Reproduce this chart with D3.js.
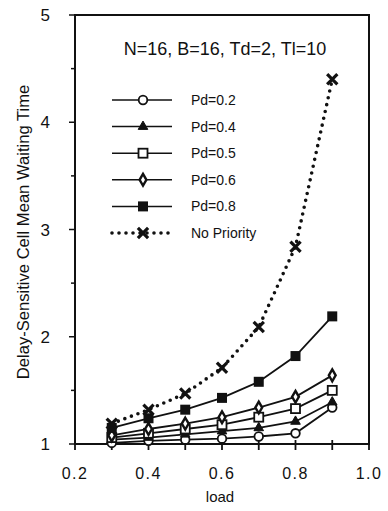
<!DOCTYPE html>
<html>
<head>
<meta charset="utf-8">
<script src="https://cdn.jsdelivr.net/npm/d3@7"></script>
<style>
  html, body { margin: 0; padding: 0; background: #fff; }
  svg text { font-family: "Liberation Sans", Arial, sans-serif; fill: #111; }
</style>
</head>
<body>
<svg id="chart" width="388" height="511" viewBox="0 0 388 511"></svg>
<script>
// load values on the x axis
var loads = [0.3, 0.4, 0.5, 0.6, 0.7, 0.8, 0.9];

// mean waiting time of delay-sensitive cells
var pd02 = [1.01, 1.03, 1.04, 1.05, 1.07, 1.10, 1.34];
var pd04 = [1.04, 1.06, 1.09, 1.12, 1.15, 1.21, 1.39];
var pd05 = [1.06, 1.10, 1.14, 1.18, 1.25, 1.33, 1.50];
var pd06 = [1.08, 1.14, 1.19, 1.25, 1.34, 1.44, 1.64];
var pd08 = [1.15, 1.24, 1.32, 1.43, 1.58, 1.82, 2.19];
var noPriority = [1.19, 1.32, 1.47, 1.71, 2.09, 2.84, 4.40];

var seriesNames = ["Pd=0.2", "Pd=0.4", "Pd=0.5", "Pd=0.6", "Pd=0.8", "No Priority"];
var xTickLabels = ["0.2", "0.4", "0.6", "0.8", "1.0"];
var yTickLabels = ["1", "2", "3", "4", "5"];

(function () {
  var svg = d3.select("#chart");
  var L = 75, R = 369, T = 15, B = 444;

  var x = d3.scaleLinear().domain([0.2, 1.0]).range([L, R]);
  var y = d3.scaleLinear().domain([1, 5]).range([B, T]);

  var series = [
    { name: seriesNames[0], values: pd02, sym: "circle" },
    { name: seriesNames[1], values: pd04, sym: "triangle" },
    { name: seriesNames[2], values: pd05, sym: "square" },
    { name: seriesNames[3], values: pd06, sym: "diamond" },
    { name: seriesNames[4], values: pd08, sym: "fsquare" },
    { name: seriesNames[5], values: noPriority, sym: "cross", dotted: true }
  ];

  // frame
  svg.append("rect").attr("x", L).attr("y", T).attr("width", R - L).attr("height", B - T)
    .attr("fill", "none").attr("stroke", "#111").attr("stroke-width", 2);

  // x ticks every 0.1, labels every 0.2
  var gx = svg.append("g");
  d3.range(0.2, 1.0001, 0.1).forEach(function (v) {
    gx.append("line").attr("x1", x(v)).attr("x2", x(v)).attr("y1", B - 4).attr("y2", B + 6)
      .attr("stroke", "#111").attr("stroke-width", 1.8);
  });
  xTickLabels.forEach(function (s) {
    gx.append("text").attr("x", x(+s)).attr("y", 479).attr("text-anchor", "middle")
      .attr("font-size", 16).attr("letter-spacing", 1.5).text(s);
  });
  svg.append("text").attr("x", 220).attr("y", 502).attr("text-anchor", "middle")
    .attr("font-size", 15).text("load");

  // y ticks every 0.5, labels on integers
  var gy = svg.append("g");
  d3.range(1, 5.0001, 0.5).forEach(function (v) {
    gy.append("line").attr("x1", L - (v % 1 ? 4 : 6)).attr("x2", L).attr("y1", y(v)).attr("y2", y(v))
      .attr("stroke", "#111").attr("stroke-width", 1.5);
  });
  yTickLabels.forEach(function (s) {
    gy.append("text").attr("x", 50).attr("y", y(+s) + 6).attr("text-anchor", "end")
      .attr("font-size", 17).text(s);
  });
  svg.append("text").attr("transform", "translate(29,232) rotate(-90)")
    .attr("text-anchor", "middle").attr("font-size", 16.6)
    .text("Delay-Sensitive Cell Mean Waiting Time");

  svg.append("text").attr("x", 225).attr("y", 55).attr("text-anchor", "middle")
    .attr("font-size", 18).text("N=16, B=16, Td=2, Tl=10");

  function marker(g, sym, cx, cy) {
    var st = "#111";
    if (sym === "circle") {
      g.append("circle").attr("cx", cx).attr("cy", cy).attr("r", 4.3)
        .attr("fill", "#fff").attr("stroke", st).attr("stroke-width", 1.8);
    } else if (sym === "triangle") {
      g.append("path").attr("d", d3.symbol(d3.symbolTriangle, 40)())
        .attr("transform", "translate(" + cx + "," + cy + ")")
        .attr("fill", "#111").attr("stroke", st).attr("stroke-width", 1);
    } else if (sym === "square") {
      g.append("rect").attr("x", cx - 4.5).attr("y", cy - 4.5).attr("width", 9).attr("height", 9)
        .attr("fill", "#fff").attr("stroke", st).attr("stroke-width", 1.8);
    } else if (sym === "diamond") {
      g.append("path").attr("d", d3.symbol(d3.symbolDiamond, 40)())
        .attr("transform", "translate(" + cx + "," + cy + ")")
        .attr("fill", "#fff").attr("stroke", st).attr("stroke-width", 2.4);
    } else if (sym === "fsquare") {
      g.append("rect").attr("x", cx - 5).attr("y", cy - 5).attr("width", 10).attr("height", 10)
        .attr("fill", "#111");
    } else if (sym === "cross") {
      g.append("path").attr("d", d3.symbol(d3.symbolX, 70)())
        .attr("transform", "translate(" + cx + "," + cy + ")")
        .attr("fill", "none").attr("stroke", st).attr("stroke-width", 3.2);
    }
  }

  var line = d3.line().x(function (d, i) { return x(loads[i]); }).y(function (d) { return y(d); });
  var gData = svg.append("g");
  series.forEach(function (s) {
    var p = gData.append("path").datum(s.values).attr("d", line).attr("fill", "none")
      .attr("stroke", "#111");
    if (s.dotted) p.attr("stroke-width", 3.6).attr("stroke-linecap", "round").attr("stroke-dasharray", "0,7");
    else p.attr("stroke-width", 1.8);
  });
  series.forEach(function (s) {
    s.values.forEach(function (v, i) { marker(gData, s.sym, x(loads[i]), y(v)); });
  });

  // legend
  var gLeg = svg.append("g");
  series.forEach(function (s, i) {
    var ly = 100 + i * 26.6;
    var ln = gLeg.append("line").attr("x1", 112).attr("x2", 172).attr("y1", ly).attr("y2", ly)
      .attr("stroke", "#111");
    if (s.dotted) ln.attr("stroke-width", 3.6).attr("stroke-linecap", "round").attr("stroke-dasharray", "0,7");
    else ln.attr("stroke-width", 1.5);
    marker(gLeg, s.sym, 143, ly);
    gLeg.append("text").attr("x", 191).attr("y", ly + 5).attr("font-size", 14).text(s.name);
  });
})();
</script>
</body>
</html>
